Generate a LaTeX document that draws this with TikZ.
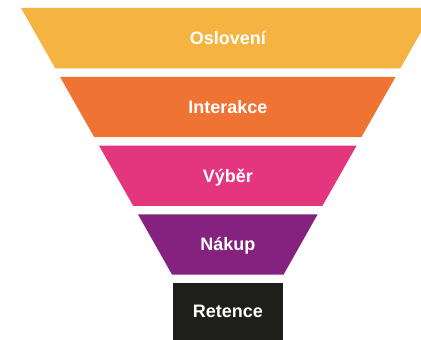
\documentclass[tikz,border=0pt]{standalone}
\usepackage{fontspec}
\setmainfont{Liberation Sans}
\definecolor{cyellow}{HTML}{F5B342}
\definecolor{corange}{HTML}{EF7332}
\definecolor{cpink}{HTML}{E3367F}
\definecolor{cpurple}{HTML}{85227F}
\definecolor{cblack}{HTML}{1E1E1B}
\tikzset{
  lbl/.style={text=white, font=\fontsize{18}{20}\selectfont\bfseries, anchor=base, inner sep=0pt}
}
\begin{document}
\begin{tikzpicture}[x=1pt,y=1pt]
\useasboundingbox (0,0) rectangle (421,340);
\begin{scope}
\clip (0,0) rectangle (421,340);
\fill[cyellow] (21,332) -- (434.6,332) -- (400.4,271.7) -- (55.2,271.7) -- cycle;
\fill[corange] (60,263.2) -- (395.6,263.2) -- (361.4,202.9) -- (94.2,202.9) -- cycle;
\fill[cpink] (99,194.4) -- (356.6,194.4) -- (322.4,134.1) -- (133.2,134.1) -- cycle;
\fill[cpurple] (138,125.6) -- (317.6,125.6) -- (283.5,65.3) -- (172.1,65.3) -- cycle;
\fill[cblack] (172.8,0) rectangle (282.8,57);
\end{scope}
\node[lbl] (oslo) at (227.8,301.5-6.45) {Oslovení};
\node[lbl] (inter) at (227.8,232.5-6.45) {Interakce};
\node[lbl] (vyber) at (227.8,164-6.45) {Výběr};
\node[lbl] (nakup) at (227.8,95.5-6.45) {Nákup};
\node[lbl] (ret) at (227.8,28.5-6.45) {Retence};
\end{tikzpicture}
\end{document}
